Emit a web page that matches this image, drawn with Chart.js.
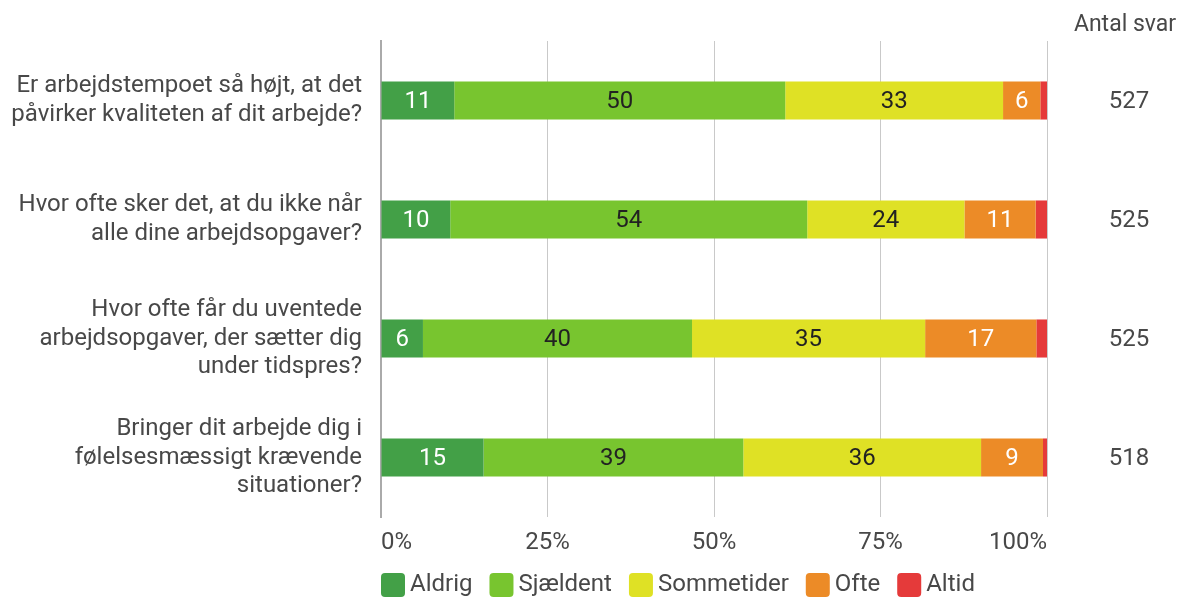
<!DOCTYPE html>
<html><head><meta charset="utf-8">
<script src="https://cdn.jsdelivr.net/npm/chart.js@4/dist/chart.umd.min.js"></script>
<style>html,body{margin:0;padding:0;background:#fff}#wrap{width:1184px;height:597px;position:relative}</style>
</head><body><div id="wrap"><canvas id="c"></canvas></div>
<script>
const categories = [
  ["Er arbejdstempoet så højt, at det", "påvirker kvaliteten af dit arbejde?"],
  ["Hvor ofte sker det, at du ikke når", "alle dine arbejdsopgaver?"],
  ["Hvor ofte får du uventede", "arbejdsopgaver, der sætter dig", "under tidspres?"],
  ["Bringer dit arbejde dig i", "følelsesmæssigt krævende", "situationer?"]
];
const seriesNames = ["Aldrig", "Sjældent", "Sommetider", "Ofte", "Altid"];
const aldrig = [11.0, 10.4, 6.3, 15.4];
const sjaeldent = [49.7, 53.6, 40.4, 39.0];
const sommetider = [32.7, 23.6, 35.0, 35.7];
const ofte = [5.6, 10.7, 16.7, 9.3];
const altid = [1.0, 1.7, 1.6, 0.6];
const antalSvar = ["527", "525", "525", "518"];
const antalTitle = "Antal svar";
const xTicks = [0, 25, 50, 75, 100];

const seriesValues = [aldrig, sjaeldent, sommetider, ofte, altid];
const colors = ["#43a047", "#78c52f", "#dfe125", "#ec8b27", "#e53a3a"];
const labelColors = ["#ffffff", "#222222", "#222222", "#ffffff", "#ffffff"];
const FONT = "Roboto";
const TEXT = "#484848";

function roundRect(ctx, x, y, w, h, r) {
  ctx.beginPath();
  ctx.moveTo(x + r, y);
  ctx.lineTo(x + w - r, y);
  ctx.arcTo(x + w, y, x + w, y + r, r);
  ctx.lineTo(x + w, y + h - r);
  ctx.arcTo(x + w, y + h, x + w - r, y + h, r);
  ctx.lineTo(x + r, y + h);
  ctx.arcTo(x, y + h, x, y + h - r, r);
  ctx.lineTo(x, y + r);
  ctx.arcTo(x, y, x + r, y, r);
  ctx.closePath();
}

const valueLabels = {
  id: "valueLabels",
  afterDatasetsDraw(chart) {
    const ctx = chart.ctx;
    ctx.save();
    ctx.font = "24px " + FONT;
    ctx.textAlign = "center";
    ctx.textBaseline = "middle";
    chart.data.datasets.forEach((ds, di) => {
      const meta = chart.getDatasetMeta(di);
      meta.data.forEach((bar, i) => {
        const v = ds.data[i];
        if (v < 3) return;
        ctx.fillStyle = labelColors[di];
        ctx.fillText(String(Math.round(v)), (bar.x + bar.base) / 2, bar.y + 1);
      });
    });
    ctx.restore();
  }
};

const extras = {
  id: "extras",
  afterDraw(chart) {
    const ctx = chart.ctx;
    const ys = chart.scales.y;
    const area = chart.chartArea;
    ctx.save();
    ctx.fillStyle = TEXT;
    ctx.textAlign = "center";
    ctx.textBaseline = "middle";
    ctx.font = "23px " + FONT;
    ctx.fillText(antalTitle, area.right + 78, 25);
    ctx.font = "24px " + FONT;
    antalSvar.forEach((s, i) => {
      ctx.fillText(s, area.right + 82, ys.getPixelForValue(i) + 1);
    });
    // legend
    let x = area.left;
    const boxTop = area.bottom + 56;
    const box = 24;
    ctx.textAlign = "left";
    chart.data.datasets.forEach((ds, di) => {
      ctx.fillStyle = ds.backgroundColor;
      roundRect(ctx, x, boxTop, box, box, 4);
      ctx.fill();
      x += box + 5;
      ctx.fillStyle = TEXT;
      ctx.fillText(ds.label, x, boxTop + box / 2);
      x += ctx.measureText(ds.label).width + 17;
    });
    ctx.restore();
  }
};

new Chart(document.getElementById("c"), {
  type: "bar",
  data: {
    labels: categories,
    datasets: seriesNames.map((n, i) => ({
      label: n,
      data: seriesValues[i],
      backgroundColor: colors[i],
      borderWidth: 0,
      barPercentage: 0.32,
      categoryPercentage: 1.0
    }))
  },
  options: {
    indexAxis: "y",
    responsive: true,
    maintainAspectRatio: false,
    animation: false,
    layout: { padding: { top: 41, right: 137, left: 0, bottom: 38 } },
    scales: {
      x: {
        stacked: true,
        min: 0, max: 100,
        afterBuildTicks(scale) { scale.ticks = xTicks.map(v => ({ value: v })); },
        afterFit(scale) { scale.height = 42; scale.paddingLeft = 0; scale.paddingRight = 0; },
        ticks: {
          callback: v => v + "%",
          font: { family: FONT, size: 24 },
          color: TEXT,
          padding: 12,
          align: "inner"
        },
        grid: { color: "#c9c9c9", lineWidth: 1, drawTicks: false },
        border: { display: false }
      },
      y: {
        stacked: true,
        afterFit(scale) { scale.width = 381; scale.paddingTop = 0; scale.paddingBottom = 0; },
        ticks: {
          font: { family: FONT, size: 24, lineHeight: 1.2 },
          color: TEXT,
          padding: 19
        },
        grid: { display: false, drawTicks: false },
        border: { display: true, color: "#aaaaaa", width: 2 }
      }
    },
    plugins: {
      legend: { display: false },
      tooltip: { enabled: false }
    }
  },
  plugins: [valueLabels, extras]
});
</script>
</body></html>
